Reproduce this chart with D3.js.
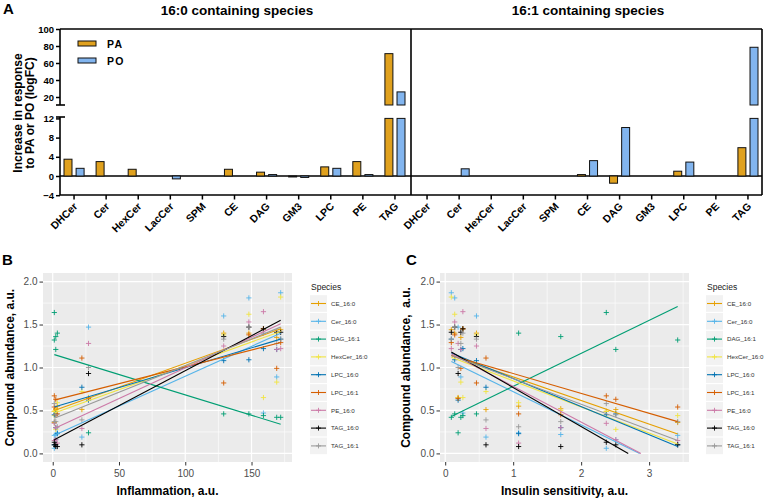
<!DOCTYPE html>
<html><head><meta charset="utf-8">
<script src="https://cdn.jsdelivr.net/npm/d3@7"></script>
<style>
body{margin:0;background:#fff;}
svg{display:block;font-family:"Liberation Sans",Arial,Helvetica,sans-serif;}
</style></head><body>
<svg id="chart" width="766" height="499"></svg>
<script>
// ---------------- Panel A data ----------------
const lipidClasses = ["DHCer","Cer","HexCer","LacCer","SPM","CE","DAG","GM3","LPC","PE","TAG"];
const groupTitles = ["16:0 containing species","16:1 containing species"];
const treatments = ["PA","PO"];
const pa160 = [3.5, 3.0, 1.4, 0, 0, 1.4, 0.8, -0.2, 1.9, 3.0, 71];
const po160 = [1.6, 0, 0, -0.6, 0, 0, 0.3, -0.3, 1.6, 0.3, 26];
const pa161 = [0, 0, 0, 0, 0, 0.3, -1.5, 0, 1.0, 0, 5.9];
const po161 = [0, 1.5, 0, 0, 0, 3.2, 10.1, 0, 2.9, 0, 78.5];
const lowTicks = [-4, 0, 4, 8, 12];
const highTicks = [20, 40, 60, 80, 100];

// ---------------- Panels B & C data ----------------
const species = ["CE_16:0","Cer_16:0","DAG_16:1","HexCer_16:0","LPC_16:0","LPC_16:1","PE_16:0","TAG_16:0","TAG_16:1"];
const speciesColors = ["#E69F00","#56B4E9","#009E73","#F0E442","#0072B2","#D55E00","#CC79A7","#000000","#999999"];
// one value per sample (12 samples)
const inflammation       = [1.2, 3.5, 2.3, 1.2, 2.3, 22, 27, 129, 148, 159, 169, 172];
const insulinSensitivity = [2.37, 1.08, 1.70, 3.42, 2.51, 0.60, 0.19, 0.46, 0.14, 0.26, 0.23, 0.09];
const ce160     = [0.49, 0.55, 0.52, 0.36, 0.51, 0.51, 0.65, 1.40, 1.40, 1.45, 1.35, 1.44];
const cer160    = [0.06, 0.24, 0.22, 0.21, 0.16, 0.19, 1.47, 1.60, 1.81, 0.47, 0.89, 1.87];
const dag161    = [1.64, 1.40, 1.36, 1.32, 1.21, null, 0.24, 0.46, 0.46, 0.44, 0.42, 0.42];
const hexcer160 = [0.49, 0.59, 0.50, 0.44, 0.28, 0.72, 0.65, 1.38, 1.62, 0.65, 0.83, 1.82];
const lpc160    = [0.45, 0.23, 0.30, 0.10, 0.46, 0.77, 0.62, 1.08, 1.09, 1.22, 1.21, 1.33];
const lpc161    = [0.67, 0.46, 0.45, 0.54, 0.63, 1.11, 0.64, 0.82, 1.38, 1.45, 0.99, 1.29];
const pe160     = [0.35, 0.12, 0.30, 0.15, 0.16, 0.29, 1.28, 1.25, 1.53, 1.65, 1.21, 1.22];
const tag160    = [0.13, 0.08, 0.08, 0.10, 0.10, 0.10, 0.93, 1.36, 1.47, 1.45, 1.41, 1.41];
const tag161    = [0.58, 0.31, 0.37, 0.37, 0.45, 0.39, 1.00, 1.33, 1.47, 1.40, 1.28, 1.33];
// fitted linear trend: value at min x and at max x of each panel
const fitInflammation = [[0.50,1.45],[0.21,1.40],[1.15,0.34],[0.47,1.42],[0.54,1.33],[0.62,1.29],[0.29,1.51],[0.16,1.55],[0.41,1.47]];
const fitInsulin      = [[1.14,0.225],[1.07,-0.216],[0.43,1.71],[1.12,0.11],[1.17,0.08],[1.14,0.37],[1.16,-0.225],[1.18,-0.33],[1.14,0.15]];
const abundanceTicks = [0, 0.5, 1.0, 1.5, 2.0];
const abundanceMinor = [0.25, 0.75, 1.25, 1.75];
const inflTicks = [0, 50, 100, 150];
const inflMinor = [25, 75, 125, 175];
const insTicks = [0, 1, 2, 3];
const insMinor = [0.5, 1.5, 2.5, 3.5];

const abundance = [ce160, cer160, dag161, hexcer160, lpc160, lpc161, pe160, tag160, tag161];

const svg = d3.select("#chart");

// ================= PANEL A =================
const gA = svg.append("g");
const catKeys = groupTitles.flatMap((t, gi) => lipidClasses.map(c => gi + "|" + c));
const xA = d3.scaleBand().domain(catKeys).range([58, 764]);
const xSub = d3.scaleBand().domain(treatments).range([6, xA.bandwidth() - 6]).paddingInner(0.34);
const yLow = d3.scaleLinear().domain([-4, 12]).range([195.2, 118.4]);
const yHigh = d3.scaleLinear().domain([20, 100]).range([97, 29]);
const highBottom = 105, lowTop = 117;
const barColors = {PA: "#E0A11E", PO: "#82B5EF"};
const boxL = 60, boxR = 762, boxT = 29, boxB = 195;
const divX = xA("1|DHCer");

// zero line
gA.append("line").attr("x1", boxL).attr("x2", boxR).attr("y1", yLow(0)).attr("y2", yLow(0))
  .attr("stroke", "#000").attr("stroke-width", 1.4);

const barData = [];
[[pa160, po160], [pa161, po161]].forEach((pair, gi) => {
  pair.forEach((arr, ti) => arr.forEach((v, ci) => barData.push({key: gi + "|" + lipidClasses[ci], t: treatments[ti], v})));
});
barData.filter(d => d.v !== 0).forEach(d => {
  const x0 = xA(d.key) + xSub(d.t), w = xSub.bandwidth();
  const vLow = Math.max(-4, Math.min(12, d.v));
  const ya = yLow(0), yb = yLow(vLow);
  gA.append("rect").attr("x", x0).attr("y", Math.min(ya, yb)).attr("width", w)
    .attr("height", Math.max(Math.abs(ya - yb), 0.6))
    .attr("fill", barColors[d.t]).attr("stroke", "#111").attr("stroke-width", 1);
  if (d.v > 12) {
    const yt = yHigh(d.v);
    gA.append("rect").attr("x", x0).attr("y", yt).attr("width", w).attr("height", highBottom - yt)
      .attr("fill", barColors[d.t]).attr("stroke", "#111").attr("stroke-width", 1);
  }
});

// frame
const frame = [[boxL, boxT, boxR, boxT], [boxR, boxT, boxR, boxB], [boxL, boxB, boxR, boxB], [divX, boxT, divX, boxB],
  [boxL, boxT, boxL, highBottom], [boxL, lowTop, boxL, boxB], [56, highBottom, 65, highBottom], [56, lowTop, 65, lowTop]];
frame.forEach(f => gA.append("line").attr("x1", f[0]).attr("y1", f[1]).attr("x2", f[2]).attr("y2", f[3])
  .attr("stroke", "#000").attr("stroke-width", 1.6));

// y axes (broken)
const axLow = gA.append("g").attr("transform", `translate(${boxL},0)`)
  .call(d3.axisLeft(yLow).tickValues(lowTicks).tickSize(4).tickPadding(2).tickSizeOuter(0));
const axHigh = gA.append("g").attr("transform", `translate(${boxL},0)`)
  .call(d3.axisLeft(yHigh).tickValues(highTicks).tickSize(4).tickPadding(2).tickSizeOuter(0));
[axLow, axHigh].forEach(a => {
  a.select(".domain").remove();
  a.selectAll(".tick line").attr("stroke", "#000").attr("stroke-width", 1.5);
  a.selectAll(".tick text").attr("font-size", 9.5).attr("font-weight", "bold").attr("fill", "#000")
    .attr("font-family", '"Liberation Sans",Arial,sans-serif');
});

// x axis ticks + labels
catKeys.forEach(k => {
  const cx = xA(k) + xA.bandwidth() / 2;
  gA.append("line").attr("x1", cx).attr("x2", cx).attr("y1", boxB).attr("y2", boxB + 4.5)
    .attr("stroke", "#000").attr("stroke-width", 1.5);
  gA.append("text").attr("transform", `translate(${cx + 4},${boxB + 12}) rotate(-45)`)
    .attr("text-anchor", "end").attr("font-size", 10.5).attr("font-weight", "bold").text(k.split("|")[1]);
});

// titles
gA.append("text").attr("x", 3).attr("y", 14).attr("font-size", 15).attr("font-weight", "bold").text("A");
groupTitles.forEach((t, gi) => {
  const cx = gi === 0 ? 237 : 588;
  gA.append("text").attr("x", cx).attr("y", 15).attr("text-anchor", "middle")
    .attr("font-size", 13.5).attr("font-weight", "bold").text(t);
});
gA.append("text").attr("transform", "translate(21.5,113) rotate(-90)").attr("text-anchor", "middle")
  .attr("font-size", 12).attr("font-weight", "bold").text("Increase in response");
gA.append("text").attr("transform", "translate(33.5,113) rotate(-90)").attr("text-anchor", "middle")
  .attr("font-size", 12).attr("font-weight", "bold").text("to PA or PO (logFC)");

// legend A
treatments.forEach((t, i) => {
  const yy = 41 + i * 17;
  gA.append("rect").attr("x", 78).attr("y", yy).attr("width", 18).attr("height", 5)
    .attr("fill", barColors[t]).attr("stroke", "#111").attr("stroke-width", 1);
  gA.append("text").attr("x", 107).attr("y", yy + 6.5).attr("font-size", 10.5).attr("font-weight", "bold")
    .attr("letter-spacing", 1.2).text(t);
});

// ================= PANELS B & C =================
function scatterPanel(cfg) {
  const g = svg.append("g");
  const [xa, xb] = d3.extent(cfg.xVals);
  const pad = (xb - xa) * 0.05;
  const x = d3.scaleLinear().domain([xa - pad, xb + pad]).range([cfg.px0, cfg.px1]);
  const y = d3.scaleLinear().domain([-0.1, 2.1]).range([cfg.py1, cfg.py0]);
  g.append("rect").attr("x", cfg.px0).attr("y", cfg.py0).attr("width", cfg.px1 - cfg.px0)
    .attr("height", cfg.py1 - cfg.py0).attr("fill", "#EBEBEB");
  const grid = (vals, isX, w) => vals.forEach(v => {
    if (isX) g.append("line").attr("x1", x(v)).attr("x2", x(v)).attr("y1", cfg.py0).attr("y2", cfg.py1)
      .attr("stroke", "#fff").attr("stroke-width", w);
    else g.append("line").attr("y1", y(v)).attr("y2", y(v)).attr("x1", cfg.px0).attr("x2", cfg.px1)
      .attr("stroke", "#fff").attr("stroke-width", w);
  });
  grid(cfg.xMinor.filter(v => x(v) <= cfg.px1), true, 0.6);
  grid(abundanceMinor, false, 0.6);
  grid(cfg.xTicks, true, 1.2);
  grid(abundanceTicks, false, 1.2);

  // points
  species.forEach((s, si) => {
    cfg.xVals.forEach((xv, k) => {
      const v = abundance[si][k];
      if (v == null) return;
      const px = x(xv), py = y(v);
      g.append("path").attr("d", `M${px - 2.6},${py}h5.2M${px},${py - 2.6}v5.2`)
        .attr("stroke", speciesColors[si]).attr("stroke-width", 0.9).attr("fill", "none");
    });
  });
  // fit lines
  cfg.fits.forEach(([ya, yb], si) => {
    let x2 = xb, y2 = yb;
    if (yb < 0) { x2 = xa + (xb - xa) * ya / (ya - yb); y2 = 0; }
    g.append("line").attr("x1", x(xa)).attr("y1", y(ya)).attr("x2", x(x2)).attr("y2", y(y2))
      .attr("stroke", speciesColors[si]).attr("stroke-width", 1.1);
  });

  // axes
  const ax = g.append("g").attr("transform", `translate(0,${cfg.py1})`)
    .call(d3.axisBottom(x).tickValues(cfg.xTicks).tickSize(3.5).tickPadding(4).tickFormat(d3.format("d")));
  const ay = g.append("g").attr("transform", `translate(${cfg.px0},0)`)
    .call(d3.axisLeft(y).tickValues(abundanceTicks).tickSize(3.5).tickPadding(2).tickFormat(d3.format(".1f")));
  [ax, ay].forEach(a => {
    a.select(".domain").remove();
    a.selectAll(".tick line").attr("stroke", "#333").attr("stroke-width", 1);
    a.selectAll(".tick text").attr("font-size", 10).attr("fill", "#4D4D4D")
      .attr("font-family", '"Liberation Sans",Arial,sans-serif');
  });
  g.append("text").attr("x", (cfg.px0 + cfg.px1) / 2).attr("y", 495).attr("text-anchor", "middle")
    .attr("font-size", 12).attr("font-weight", "bold").text(cfg.xTitle);
  g.append("text").attr("transform", `translate(${cfg.yTitleX},${(cfg.py0 + cfg.py1) / 2}) rotate(-90)`)
    .attr("text-anchor", "middle").attr("font-size", 12).attr("font-weight", "bold")
    .style("white-space", "pre").text(cfg.yTitle);
  g.append("text").attr("x", cfg.labelX).attr("y", 265).attr("font-size", 15).attr("font-weight", "bold").text(cfg.label);

  // legend
  const lx = cfg.legendX;
  g.append("text").attr("x", lx).attr("y", 289.5).attr("font-size", 8.5).attr("fill", "#222").text("Species");
  species.forEach((s, i) => {
    const cy = 303.5 + 17.8 * i;
    g.append("rect").attr("x", lx - 1).attr("y", cy - 8.3).attr("width", 17).attr("height", 16.6).attr("fill", "#F2F2F2");
    g.append("line").attr("x1", lx).attr("x2", lx + 15).attr("y1", cy).attr("y2", cy)
      .attr("stroke", speciesColors[i]).attr("stroke-width", 1.1);
    g.append("path").attr("d", `M${lx + 5},${cy}h5M${lx + 7.5},${cy - 2.5}v5`)
      .attr("stroke", speciesColors[i]).attr("stroke-width", 0.9);
    g.append("text").attr("x", lx + 20).attr("y", cy + 2.2).attr("font-size", 6.2).attr("fill", "#333").text(s);
  });
}

scatterPanel({px0: 43, px1: 292, py0: 273, py1: 462, xVals: inflammation, fits: fitInflammation,
  xTicks: inflTicks, xMinor: inflMinor, xTitle: "Inflammation, a.u.", yTitle: "Compound abundance, a.u.",
  yTitleX: 13.5, label: "B", labelX: 2, legendX: 311});
scatterPanel({px0: 440, px1: 689, py0: 273, py1: 462, xVals: insulinSensitivity, fits: fitInsulin,
  xTicks: insTicks, xMinor: insMinor, xTitle: "Insulin sensitivity, a.u.", yTitle: "Compound abundance,  a.u.",
  yTitleX: 409.5, label: "C", labelX: 406, legendX: 707});
</script>
</body></html>
